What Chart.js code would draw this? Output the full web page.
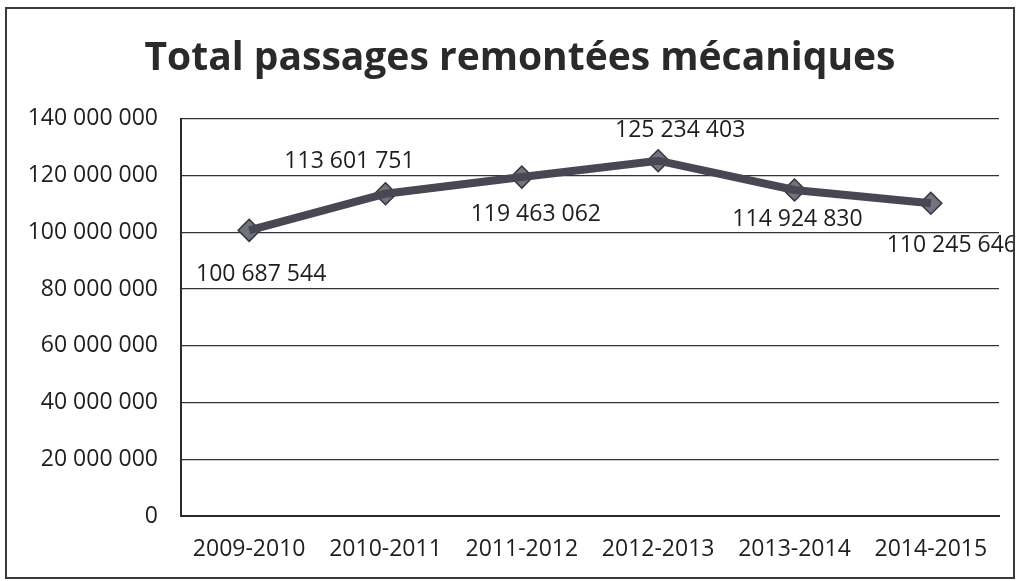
<!DOCTYPE html>
<html>
<head>
<meta charset="utf-8">
<script src="https://cdn.jsdelivr.net/npm/chart.js@4/dist/chart.umd.min.js"></script>
<style>
  body { margin: 0; background: #fff; }
  #wrap { position: absolute; left: 5px; top: 7px; width: 1006px; height: 568px; border: 2px solid #3a3a3a; }
</style>
</head>
<body>
<div id="wrap"><canvas id="myChart"></canvas></div>
<script>
const seasons = ['2009-2010', '2010-2011', '2011-2012', '2012-2013', '2013-2014', '2014-2015'];
const passages = [100687544, 113601751, 119463062, 125234403, 114924830, 110245646];
const yTicks = [0, 20000000, 40000000, 60000000, 80000000, 100000000, 120000000, 140000000];

function spaced(n) {
  return String(n).replace(/\B(?=(\d{3})+(?!\d))/g, ' ');
}

// label nudges from each point (px), the Excel labels were moved by hand
const labelShift = [[12, 44], [-36, -32], [14, 37], [22, -30], [3, 30], [21, 42]];

const pointLabels = {
  id: 'pointLabels',
  afterLayout(chart) {
    // title sits a little right of centre in the original
    chart.titleBlock.left += 17;
    chart.titleBlock.right += 17;
  },
  afterDatasetsDraw(chart) {
    const ctx = chart.ctx;
    const meta = chart.getDatasetMeta(1);
    ctx.save();
    ctx.font = '23px "Open Sans", sans-serif';
    ctx.fillStyle = '#1e1e1e';
    ctx.textAlign = 'center';
    ctx.textBaseline = 'middle';
    meta.data.forEach(function (pt, i) {
      ctx.fillText(spaced(passages[i]), pt.x + labelShift[i][0], pt.y + labelShift[i][1]);
    });
    ctx.restore();
  }
};

const ctx = document.getElementById('myChart');
new Chart(ctx, {
  type: 'line',
  data: {
    labels: seasons,
    datasets: [
      {
        // dark outline of the line
        data: passages,
        borderColor: '#484855',
        borderWidth: 8,
        pointRadius: 0,
        tension: 0
      },
      {
        data: passages,
        borderColor: '#80808e',
        borderWidth: 5,
        pointStyle: 'rectRot',
        pointRadius: 11,
        pointBackgroundColor: '#727280',
        pointBorderColor: '#34343e',
        pointBorderWidth: 1.5,
        tension: 0
      }
    ]
  },
  options: {
    responsive: true,
    maintainAspectRatio: false,
    animation: false,
    layout: { padding: { left: 0, right: 14, top: 0, bottom: 0 } },
    scales: {
      x: {
        offset: true,
        afterFit: function (axis) { axis.height = 61; },
        grid: { display: false, drawTicks: false },
        border: { color: '#2a2a2a', width: 2 },
        ticks: { color: '#1e1e1e', font: { family: 'Open Sans', size: 23 }, padding: 20, maxRotation: 0 }
      },
      y: {
        min: 0,
        max: 140000000,
        afterBuildTicks: function (axis) {
          axis.ticks = yTicks.map(function (v) { return { value: v }; });
        },
        afterFit: function (axis) { axis.width = 174; },
        grid: { color: '#333', lineWidth: 1.2, drawTicks: false },
        border: { color: '#2a2a2a', width: 2 },
        ticks: {
          color: '#1e1e1e',
          font: { family: 'Open Sans', size: 23 },
          padding: 23,
          callback: function (v) { return spaced(v); }
        }
      }
    },
    plugins: {
      legend: { display: false },
      tooltip: { enabled: false },
      title: {
        display: true,
        text: 'Total passages remontées mécaniques',
        color: '#2a2a2a',
        font: { family: 'Open Sans', size: 39, weight: 'bold' },
        padding: { top: 26, bottom: 37 }
      }
    }
  },
  plugins: [pointLabels]
});
</script>
</body>
</html>
